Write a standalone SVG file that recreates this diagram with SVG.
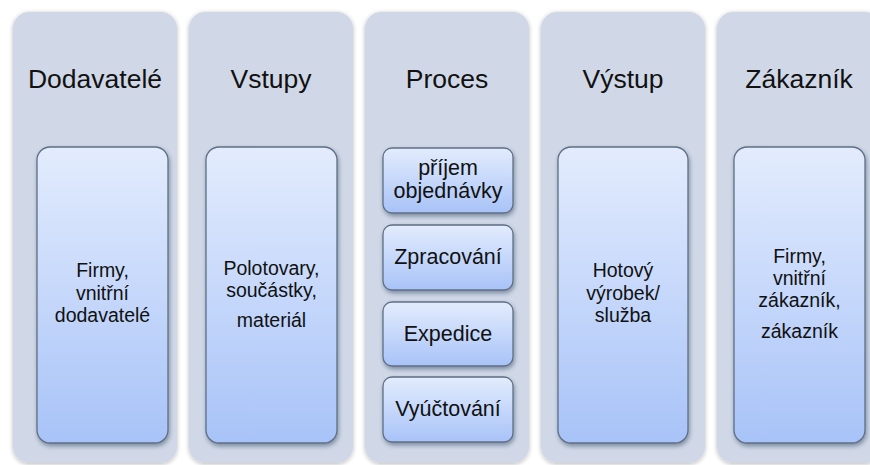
<svg xmlns="http://www.w3.org/2000/svg" width="870" height="465" viewBox="0 0 870 465">
  <defs>
    <linearGradient id="boxFill" x1="0" y1="0" x2="0" y2="1">
      <stop offset="0" stop-color="#E3ECFD"/>
      <stop offset="1" stop-color="#A8C3F8"/>
    </linearGradient>
    <filter id="colShadow" x="-10%" y="-5%" width="120%" height="110%">
      <feDropShadow dx="0" dy="1" stdDeviation="2.2" flood-color="#000" flood-opacity="0.28"/>
    </filter>
    <filter id="boxShadow" x="-10%" y="-10%" width="125%" height="125%">
      <feDropShadow dx="1" dy="2.5" stdDeviation="2" flood-color="#1a2a48" flood-opacity="0.45"/>
    </filter>
  </defs>
  <style>
    .col { fill: #D0D8E7; filter: url(#colShadow); }
    .box { fill: url(#boxFill); stroke: #5F6F86; stroke-width: 1.3; filter: url(#boxShadow); }
    .title { font-family: "Liberation Sans", Arial, sans-serif; font-size: 26.5px; fill: #111; text-anchor: middle; }
    .label { font-family: "Liberation Sans", Arial, sans-serif; font-size: 19.5px; fill: #111; text-anchor: middle; }
    .step { font-family: "Liberation Sans", Arial, sans-serif; font-size: 21.5px; fill: #111; text-anchor: middle; }
  </style>

  <rect width="870" height="465" fill="#FFFFFF"/>

  <!-- Dodavatelé -->
  <g id="dodavatele">
    <rect class="col" x="13" y="12" width="164" height="451" rx="16"/>
    <text class="title" x="95" y="88">Dodavatelé</text>
    <rect class="box" x="37" y="147" width="131" height="296" rx="13"/>
    <text class="label" x="102.5" y="277">Firmy,</text>
    <text class="label" x="102.5" y="300">vnitřní</text>
    <text class="label" x="102.5" y="322">dodavatelé</text>
  </g>

  <!-- Vstupy -->
  <g id="vstupy">
    <rect class="col" x="189" y="12" width="164" height="451" rx="16"/>
    <text class="title" x="271" y="88">Vstupy</text>
    <rect class="box" x="206" y="147" width="131" height="296" rx="13"/>
    <text class="label" x="271.5" y="275">Polotovary,</text>
    <text class="label" x="271.5" y="297">součástky,</text>
    <text class="label" x="271.5" y="327">materiál</text>
  </g>

  <!-- Proces -->
  <g id="proces">
    <rect class="col" x="365" y="12" width="164" height="451" rx="16"/>
    <text class="title" x="447" y="88">Proces</text>
    <g id="prijem">
      <rect class="box" x="383" y="148" width="130" height="65" rx="9"/>
      <text class="step" x="448" y="175">příjem</text>
      <text class="step" x="448" y="198">objednávky</text>
    </g>
    <g id="zpracovani">
      <rect class="box" x="383" y="225" width="130" height="65" rx="9"/>
      <text class="step" x="448" y="264">Zpracování</text>
    </g>
    <g id="expedice">
      <rect class="box" x="383" y="302" width="130" height="64" rx="9"/>
      <text class="step" x="448" y="341">Expedice</text>
    </g>
    <g id="vyuctovani">
      <rect class="box" x="383" y="377" width="130" height="65" rx="9"/>
      <text class="step" x="448" y="416">Vyúčtování</text>
    </g>
  </g>

  <!-- Výstup -->
  <g id="vystup">
    <rect class="col" x="541" y="12" width="164" height="451" rx="16"/>
    <text class="title" x="623" y="88">Výstup</text>
    <rect class="box" x="558" y="147" width="130" height="296" rx="13"/>
    <text class="label" x="623" y="277">Hotový</text>
    <text class="label" x="623" y="300">výrobek/</text>
    <text class="label" x="623" y="322">služba</text>
  </g>

  <!-- Zákazník -->
  <g id="zakaznik">
    <rect class="col" x="717" y="12" width="164" height="451" rx="16"/>
    <text class="title" x="799" y="88">Zákazník</text>
    <rect class="box" x="734" y="147" width="131" height="296" rx="13"/>
    <text class="label" x="799.5" y="263">Firmy,</text>
    <text class="label" x="799.5" y="285">vnitřní</text>
    <text class="label" x="799.5" y="307">zákazník,</text>
    <text class="label" x="799.5" y="338">zákazník</text>
  </g>

  <!-- no connectors in this diagram -->
  <g id="connectors"/>
</svg>
